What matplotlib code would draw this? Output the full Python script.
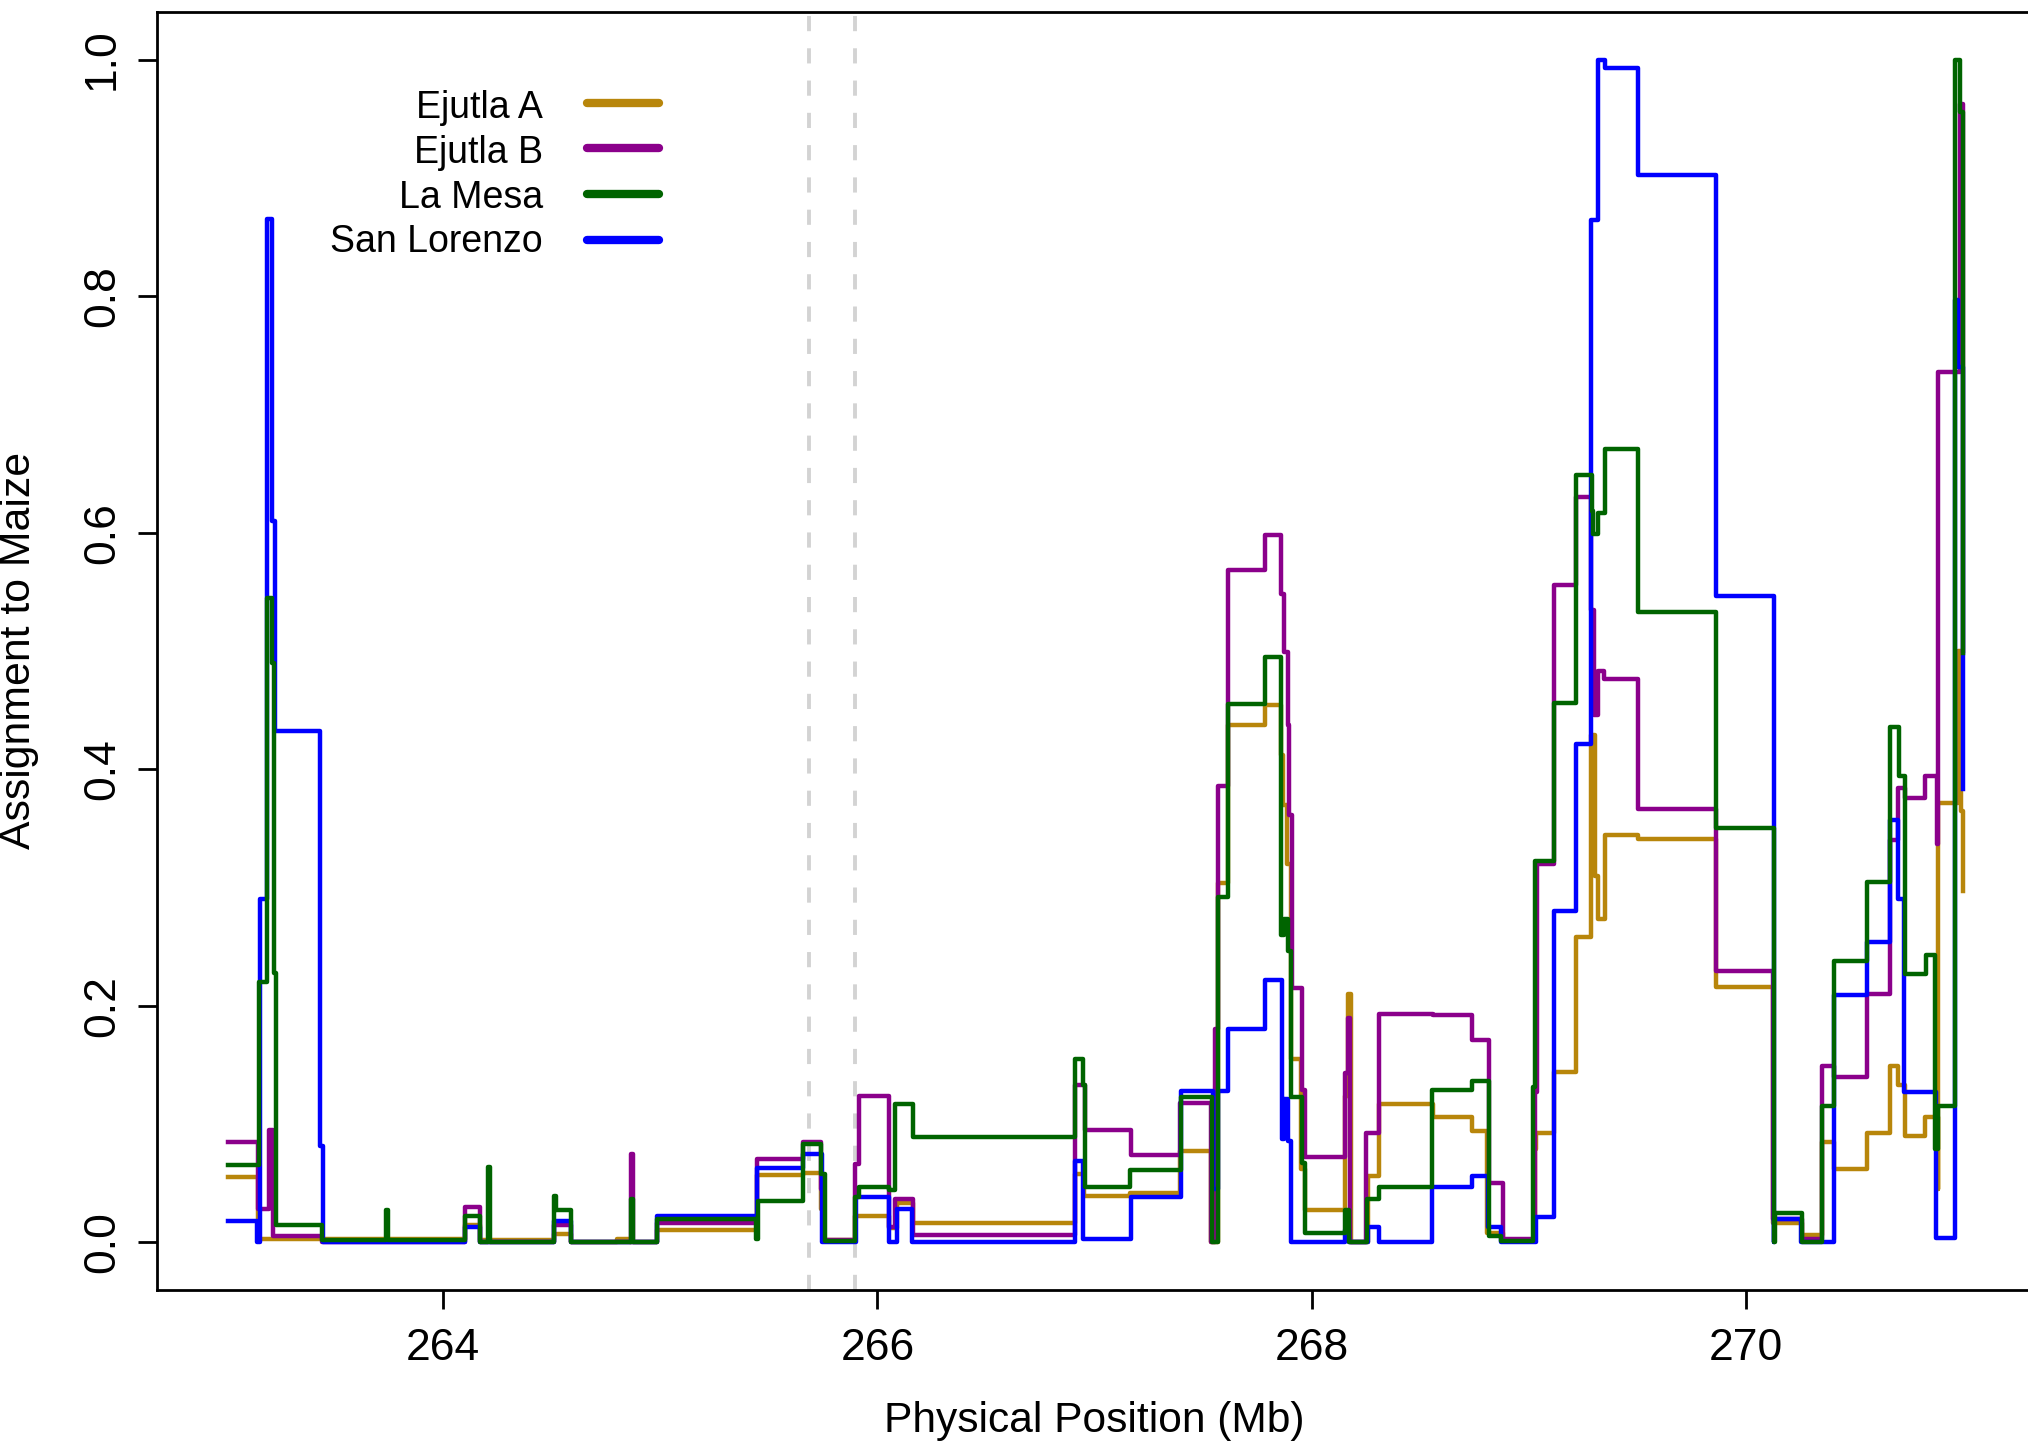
import matplotlib
matplotlib.use("Agg")
import matplotlib.pyplot as plt

plt.rcParams['font.family'] = ['Liberation Sans', 'DejaVu Sans']

# step positions (Mb) and assignment values
gold_x = [263.01, 263.145, 264.10, 264.17, 264.51, 264.59, 264.80, 264.86, 264.985, 265.445,
          265.655, 265.741, 265.748, 265.895, 266.051, 266.09, 266.166, 266.91, 266.953, 267.163,
          267.394, 267.536, 267.57, 267.616, 267.785, 267.861, 267.87, 267.887, 267.905, 267.95,
          267.97, 268.153, 268.168, 268.18, 268.26, 268.309, 268.559, 268.738, 268.81, 268.881,
          269.027, 269.035, 269.115, 269.218, 269.287, 269.305, 269.318, 269.349, 269.502, 269.862,
          270.125, 270.257, 270.349, 270.408, 270.558, 270.665, 270.699, 270.733, 270.825, 270.883,
          270.886, 270.975, 270.99, 271.0]
gold_y = [0.055, 0.003, 0.015, 0.002, 0.007, 0.0, 0.003, 0.0, 0.01, 0.057,
          0.059, 0.028, 0.002, 0.022, 0.012, 0.033, 0.016, 0.058, 0.039, 0.042,
          0.077, 0.0, 0.304, 0.437, 0.454, 0.412, 0.37, 0.32, 0.155, 0.062,
          0.027, 0.124, 0.21, 0.0, 0.056, 0.117, 0.106, 0.094, 0.008, 0.001,
          0.079, 0.092, 0.144, 0.258, 0.429, 0.31, 0.273, 0.344, 0.341, 0.216,
          0.016, 0.006, 0.085, 0.062, 0.092, 0.149, 0.133, 0.09, 0.106, 0.045,
          0.371, 0.5, 0.365, 0.297]

purple_x = [263.01, 263.145, 263.195, 263.215, 263.44, 264.10, 264.17, 264.51, 264.59, 264.865,
            264.875, 264.985, 265.445, 265.655, 265.741, 265.748, 265.895, 265.913, 266.051, 266.082,
            266.166, 266.91, 266.956, 267.167, 267.394, 267.536, 267.555, 267.57, 267.613, 267.785,
            267.861, 267.872, 267.892, 267.895, 267.91, 267.957, 267.968, 268.152, 268.168, 268.176,
            268.252, 268.309, 268.559, 268.738, 268.815, 268.881, 269.027, 269.039, 269.115, 269.218,
            269.287, 269.302, 269.318, 269.345, 269.502, 269.862, 270.127, 270.257, 270.349, 270.408,
            270.558, 270.665, 270.699, 270.733, 270.825, 270.88, 270.886, 270.985, 271.0]
purple_y = [0.085, 0.028, 0.095, 0.005, 0.0, 0.03, 0.0, 0.015, 0.0, 0.075,
            0.0, 0.016, 0.070, 0.085, 0.045, 0.002, 0.066, 0.124, 0.013, 0.037,
            0.0065, 0.133, 0.095, 0.074, 0.118, 0.0, 0.18, 0.386, 0.568, 0.598,
            0.548, 0.499, 0.437, 0.361, 0.215, 0.129, 0.072, 0.143, 0.19, 0.0,
            0.092, 0.193, 0.192, 0.171, 0.05, 0.003, 0.127, 0.32, 0.556, 0.63,
            0.535, 0.446, 0.483, 0.476, 0.366, 0.229, 0.02, 0.003, 0.149, 0.14,
            0.21, 0.34, 0.384, 0.376, 0.394, 0.337, 0.736, 0.962, 0.5]

green_x = [263.01, 263.15, 263.19, 263.212, 263.22, 263.228, 263.44, 263.735, 263.745, 264.10,
           264.17, 264.205, 264.215, 264.51, 264.52, 264.59, 264.865, 264.875, 264.985, 265.44,
           265.45, 265.655, 265.741, 265.757, 265.895, 265.913, 266.051, 266.082, 266.166, 266.91,
           266.945, 266.956, 267.163, 267.4, 267.54, 267.57, 267.616, 267.785, 267.861, 267.874,
           267.889, 267.904, 267.957, 267.97, 268.152, 268.172, 268.257, 268.309, 268.556, 268.738,
           268.815, 268.872, 269.019, 269.03, 269.115, 269.218, 269.29, 269.298, 269.318, 269.349,
           269.502, 269.862, 270.128, 270.135, 270.257, 270.349, 270.408, 270.558, 270.665, 270.707,
           270.733, 270.83, 270.87, 270.886, 270.962, 270.987, 271.0]
green_y = [0.065, 0.22, 0.545, 0.49, 0.228, 0.015, 0.002, 0.027, 0.002, 0.0225,
           0.0, 0.064, 0.0, 0.039, 0.027, 0.0, 0.037, 0.0, 0.02, 0.003,
           0.035, 0.083, 0.058, 0.0015, 0.038, 0.047, 0.044, 0.117, 0.089, 0.155,
           0.133, 0.047, 0.061, 0.123, 0.0, 0.292, 0.455, 0.495, 0.26, 0.273,
           0.246, 0.123, 0.067, 0.0076, 0.027, 0.0, 0.037, 0.047, 0.129, 0.136,
           0.0056, 0.001, 0.131, 0.322, 0.456, 0.649, 0.618, 0.599, 0.617, 0.671,
           0.533, 0.35, 0.0, 0.025, 0.0, 0.115, 0.238, 0.305, 0.436, 0.394,
           0.227, 0.243, 0.079, 0.115, 1.0, 0.956, 0.498]

blue_x = [263.01, 263.14, 263.157, 263.19, 263.21, 263.227, 263.434, 263.445, 264.10, 264.17,
          264.51, 264.59, 264.985, 265.445, 265.655, 265.745, 265.9, 266.051, 266.09, 266.16,
          266.91, 266.945, 267.167, 267.4, 267.547, 267.57, 267.616, 267.785, 267.864, 267.872,
          267.892, 267.907, 268.152, 268.17, 268.26, 268.309, 268.556, 268.738, 268.812, 268.873,
          269.034, 269.118, 269.218, 269.287, 269.318, 269.352, 269.502, 269.862, 270.128, 270.132,
          270.255, 270.408, 270.558, 270.665, 270.699, 270.73, 270.875, 270.962, 270.977, 271.0]
blue_y = [0.018, 0.0, 0.29, 0.865, 0.61, 0.432, 0.081, 0.0, 0.013, 0.0,
          0.018, 0.0, 0.022, 0.063, 0.075, 0.0, 0.038, 0.0, 0.028, 0.0,
          0.0685, 0.003, 0.038, 0.128, 0.045, 0.128, 0.18, 0.222, 0.087, 0.121,
          0.086, 0.0, 0.01, 0.0, 0.013, 0.0, 0.047, 0.056, 0.013, 0.0,
          0.021, 0.28, 0.421, 0.864, 1.0, 0.993, 0.902, 0.546, 0.0, 0.02,
          0.0, 0.209, 0.254, 0.357, 0.29, 0.127, 0.004, 0.797, 0.74, 0.383]

series_names = ["Ejutla A", "Ejutla B", "La Mesa", "San Lorenzo"]
series_colors = ["#B8860B", "#8B008B", "#006400", "#0000FF"]
region_bounds = [265.683, 265.895]

fig = plt.figure(figsize=(10.14, 7.225), dpi=200)
ax = fig.add_axes([0.07727, 0.10754, 0.92490, 0.88401])

for b in region_bounds:
    ax.axvline(b, color="#D3D3D3", lw=1.4, linestyle=(0, (3.9, 4.4)), zorder=1)

# draw order: gold, purple, blue, green on top
for xs, ys, c in [(gold_x, gold_y, series_colors[0]),
                  (purple_x, purple_y, series_colors[1]),
                  (blue_x, blue_y, series_colors[3]),
                  (green_x, green_y, series_colors[2])]:
    ax.plot(xs, ys, drawstyle="steps-post", color=c, lw=1.6, zorder=2)

ax.set_xlim(262.68, 271.32)
ax.set_ylim(-0.04, 1.04)
ax.set_xticks([264, 266, 268, 270])
ax.set_yticks([0.0, 0.2, 0.4, 0.6, 0.8, 1.0])
ax.set_yticklabels(["0.0", "0.2", "0.4", "0.6", "0.8", "1.0"], rotation=90, va="center")
ax.tick_params(axis="both", length=6.8, width=1.0, labelsize=16, direction="out")
ax.tick_params(axis="x", pad=7.2)
ax.tick_params(axis="y", pad=5.4)
for s in ax.spines.values():
    s.set_linewidth(1.0)

fig.text(1094 / 2028, 1 - 1421 / 1445, "Physical Position (Mb)", fontsize=15.3,
         ha="center", va="center")
fig.text(19 / 2028, 1 - 650 / 1445, "Assignment to Maize", fontsize=15.4,
         ha="center", va="center", rotation=90)

# legend: labels right-aligned, line keys to the right
for i, (name, c) in enumerate(zip(series_names, series_colors)):
    ty = 1 - (118.3 + 44.6 * i) / 1445
    ly = 1 - (102.7 + 45.6 * i) / 1445
    fig.text(543 / 2028, ty, name, fontsize=13.5, ha="right", va="baseline")
    ax.plot([587 / 2028, 659 / 2028], [ly, ly], transform=fig.transFigure, color=c,
            lw=3.0, solid_capstyle="round", clip_on=False)

fig.savefig("out.png", dpi=200)
